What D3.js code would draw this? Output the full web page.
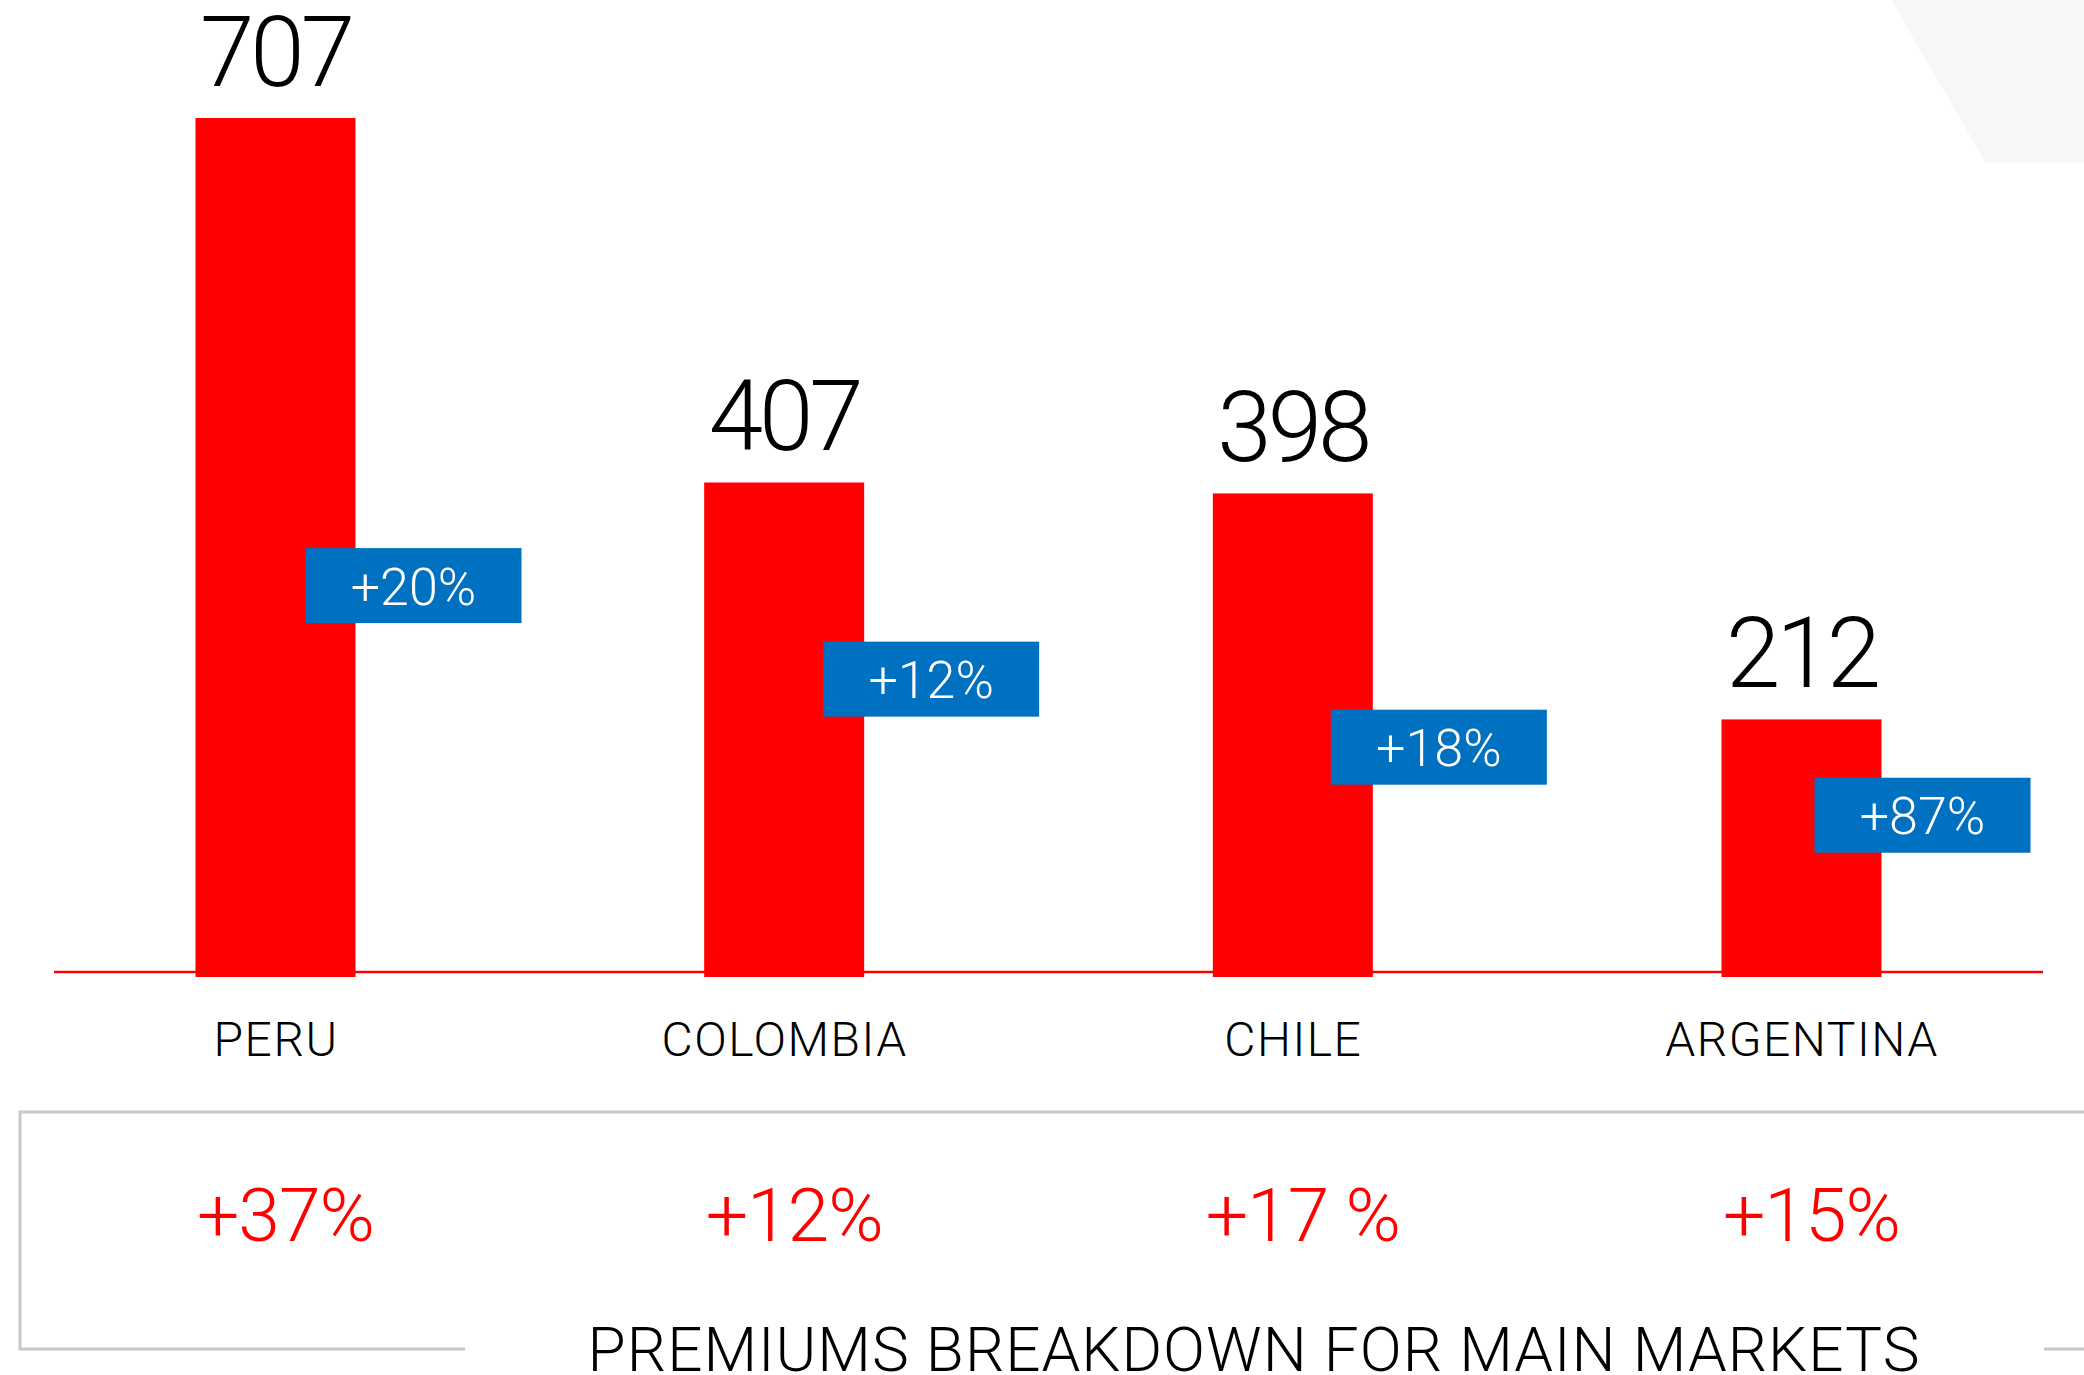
<!DOCTYPE html>
<html>
<head>
<meta charset="utf-8">
<script src="https://cdn.jsdelivr.net/npm/d3@7"></script>
<style>
  html, body { margin: 0; padding: 0; background: #fff; }
  svg { display: block; font-family: Roboto, "DejaVu Sans", sans-serif; }
</style>
</head>
<body>
<svg width="2084" height="1375"></svg>
<script>
var canvas = d3.select("svg");

var iWidth = +canvas.attr("width");
var iHeight = +canvas.attr("height");

// data
var markets = ["PERU", "COLOMBIA", "CHILE", "ARGENTINA"];
var premiums = [707, 407, 398, 212];
var growthLabels = ["+20%", "+12%", "+18%", "+87%"];
var totalGrowthLabels = ["+37%", "+12%", "+17 %", "+15%"];
var title = "PREMIUMS BREAKDOWN FOR MAIN MARKETS";

// layout of the blue badges (value units for top, px offset from bar centre)
var badgeTop = [353, 276, 220, 164];
var badgeShift = [30, 39, 38, 13];

var colorBar = "#ff0000";
var colorBadge = "#0070c0";
var colorFrame = "#c8c8c8";

var barWidth = 160;
var badgeW = 216, badgeH = 75;

var xScale = d3.scalePoint()
    .domain(markets)
    .range([275.5, 1801.5]);

var yScale = d3.scaleLinear()
    .domain([0, 800])
    .range([977, 977 - 800 * 1.215]);

// light decorative shape top right
canvas.append("polygon")
    .attr("points", [[1891, 0], [1986, 163], [iWidth, 163], [iWidth, 0]].join(" "))
    .attr("fill", "#f7f7f7");

var rows = markets.map(function (m, i) {
    return { name: m, value: premiums[i], growth: growthLabels[i], total: totalGrowthLabels[i], top: badgeTop[i], shift: badgeShift[i] };
});

// bars
canvas.append("g").selectAll("rect")
    .data(rows)
    .enter()
    .append("rect")
    .attr("x", d => xScale(d.name) - barWidth / 2)
    .attr("y", d => yScale(d.value))
    .attr("width", barWidth)
    .attr("height", d => yScale(0) - yScale(d.value))
    .attr("fill", colorBar);

// baseline
canvas.append("line")
    .attr("x1", 54).attr("x2", 2043)
    .attr("y1", 972).attr("y2", 972)
    .attr("stroke", colorBar)
    .attr("stroke-width", 2.5);

// value labels above bars
canvas.append("g").selectAll("text")
    .data(rows)
    .enter()
    .append("text")
    .attr("x", d => xScale(d.name))
    .attr("y", d => yScale(d.value) - 32)
    .attr("text-anchor", "middle")
    .style("font-size", "98px")
    .style("font-weight", 300)
    .style("letter-spacing", "-4px")
    .style("fill", "#000")
    .text(d => d.value);

// blue growth badges
var badges = canvas.append("g").selectAll("g")
    .data(rows)
    .enter()
    .append("g")
    .attr("transform", d => `translate(${xScale(d.name) + d.shift},${yScale(d.top)})`);

badges.append("rect")
    .attr("width", badgeW)
    .attr("height", badgeH)
    .attr("fill", colorBadge);

badges.append("text")
    .attr("x", badgeW / 2)
    .attr("y", badgeH / 2 + 19)
    .attr("text-anchor", "middle")
    .style("font-size", "52px")
    .style("font-weight", 300)
    .style("fill", "#fff")
    .text(d => d.growth);

// category axis
var xAxis = canvas.append("g")
    .attr("transform", "translate(0,1056)")
    .call(d3.axisBottom(xScale).tickSize(0).tickPadding(0));
xAxis.select(".domain").remove();
xAxis.selectAll("text")
    .attr("dy", 0)
    .style("font-family", "Roboto, sans-serif")
    .style("font-size", "48px")
    .style("font-weight", 300)
    .style("letter-spacing", "1.5px")
    .style("fill", "#000");

// frame around the totals
var frame = canvas.append("g")
    .attr("fill", "none")
    .attr("stroke", colorFrame)
    .attr("stroke-width", 3);
frame.append("path")
    .attr("d", `M${iWidth},1112 H20 V1349 H465`);
frame.append("path")
    .attr("d", `M2044,1349 H${iWidth}`);

// red total growth
canvas.append("g").selectAll("text")
    .data(rows)
    .enter()
    .append("text")
    .attr("x", d => xScale(d.name) + 10)
    .attr("y", 1241)
    .attr("text-anchor", "middle")
    .style("font-size", "75px")
    .style("font-weight", 300)
    .style("letter-spacing", "-1px")
    .style("fill", colorBar)
    .text(d => d.total);

// title
canvas.append("text")
    .attr("x", 1254)
    .attr("y", 1371)
    .attr("text-anchor", "middle")
    .style("font-size", "62px")
    .style("font-weight", 300)
    .style("letter-spacing", "1px")
    .style("fill", "#000")
    .text(title);
</script>
</body>
</html>
